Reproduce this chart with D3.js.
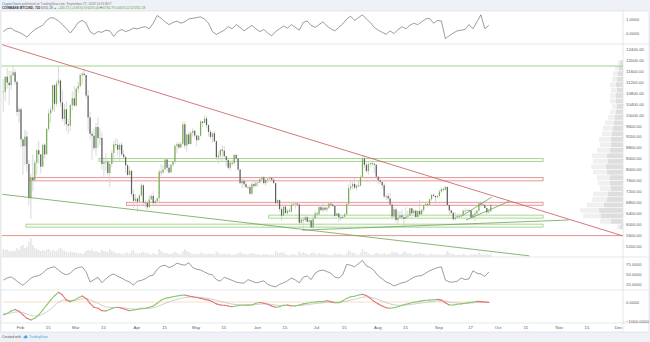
<!DOCTYPE html>
<html>
<head>
<meta charset="utf-8">
<script src="https://cdn.jsdelivr.net/npm/d3@7"></script>
<style>
  body { margin: 0; background: #eef1f6; }
  svg { display: block; font-family: "Liberation Sans", Arial, sans-serif; }
</style>
</head>
<body>
<svg id="chart" width="650" height="342"></svg>
<script>
// ---- BTCUSD (Coinbase) daily bars, 2018-01-23 .. 2018-09-27 ----
const firstDay = "2018-01-23";
const firstOpen = 10830;
const closes = [
  10840,11390,11170,11080,11440,11550,11200,10100,10200,
  9100,8850,9200,8200,6950,7700,7600,8250,8700,8550,8100,8900,8550,9480,10050,10180,11080,10400,11150,11250,10450,9850,10200,9650,9600,10350,10600,10330,
  10950,11050,11450,11500,11450,10700,9900,9300,9230,8780,9550,9150,9150,8200,8260,8280,7870,8200,8600,8920,8900,8720,8900,8550,8450,8150,7800,7950,7100,6850,6930,
  6820,7050,7420,6790,6780,6620,6900,7030,6770,6840,6950,7920,7890,8000,8360,8060,7890,8170,8280,8860,8920,8800,8940,9650,8870,9280,8930,9340,9410,9240,
  9070,9230,9750,9700,9860,9620,9370,9190,9320,9030,8440,8500,8720,8680,8480,8340,8060,8240,8230,8530,8400,8000,7500,7580,7460,7350,7350,7110,7460,7390,7500,
  7530,7640,7710,7500,7620,7650,7690,7620,7500,6770,6880,6550,6310,6640,6400,6490,6460,6710,6740,6760,6720,6050,6160,6150,6250,6090,6140,5880,6200,6390,
  6360,6620,6510,6600,6530,6600,6750,6710,6660,6300,6390,6250,6220,6270,6360,6740,7320,7380,7470,7330,7410,7400,7720,8400,8170,7940,8190,8230,8210,8170,7730,
  7600,7540,7420,7010,7030,6940,6720,6280,6540,6150,6240,6320,6250,6190,6270,6310,6580,6400,6490,6260,6480,6360,6520,6690,6730,6700,6910,7070,7030,6980,7020,
  7190,7280,7260,7360,6700,6500,6410,6180,6240,6300,6280,6330,6490,6490,6520,6500,6250,6340,6390,6490,6760,6720,6700,6590,6430,6470,6701.18
];
const highs = [
  11300,11400,11700,11600,11600,11750,11650,11250,10300,
  10250,9100,9450,9400,8350,7850,8550,8350,8750,9050,8550,8950,8950,9500,10200,10300,11100,11100,11250,11750,11300,10900,10400,10500,9850,10400,10850,11050,
  11000,11200,11500,11550,11700,11450,10900,10100,9400,9500,9700,9900,9500,9350,8400,8600,8350,8300,8700,9050,9150,9100,8950,9000,8700,8500,8200,8100,7950,7250,7100,
  7000,7100,7500,7450,6900,6850,7050,7100,7200,6900,6970,8000,8200,8150,8400,8400,8200,8200,8300,8900,9000,9000,9000,9750,9750,9300,9400,9400,9500,9450,
  9250,9250,9800,9750,9980,9950,9650,9450,9350,9400,9050,8650,8750,8880,8850,8500,8450,8270,8350,8550,8550,8400,8020,7700,7650,7600,7400,7440,7540,7580,7580,
  7600,7700,7750,7760,7640,7700,7750,7700,7680,7500,6900,6900,6620,6700,6650,6550,6580,6800,6830,6800,6800,6730,6250,6250,6350,6300,6200,6170,6290,6500,
  6440,6680,6680,6780,6700,6640,6780,6800,6800,6680,6400,6390,6320,6330,6400,6750,7450,7580,7550,7700,7450,7550,7780,8480,8500,8300,8280,8240,8290,8230,8180,
  7750,7710,7550,7500,7080,7150,7150,6730,6630,6570,6480,6470,6540,6260,6620,6480,6600,6600,6550,6530,6500,6880,6560,6700,6780,6780,6930,7100,7140,7060,7080,
  7250,7330,7340,7400,7370,6710,6540,6470,6440,6370,6400,6350,6530,6580,6540,6530,6510,6370,6500,6510,6790,6830,6780,6720,6600,6550,6734.79
];
const lows = [
  10100,10500,10950,10350,10900,11400,11100,9950,9700,
  8800,7800,8150,7900,6700,6200,7200,7600,7800,8200,7850,8100,8400,8550,9400,9700,10100,10100,10300,11050,10300,9750,9600,9400,9300,9400,10150,10300,
  10300,10800,11000,11100,11400,10600,9400,9100,8350,8700,8500,8800,8900,8000,7700,7950,7750,7350,8100,8300,8800,8500,8300,8500,8400,7850,7750,7800,7000,6600,6800,
  6450,6800,7000,6700,6600,6520,6600,6900,6650,6650,6800,6750,7750,7830,8000,7900,7850,7880,8100,8200,8600,8750,8800,8900,8750,8650,8900,8900,9200,9150,
  8850,9050,9200,9550,9700,9500,9200,9100,8980,9000,8350,8200,8350,8300,8450,8100,8000,7950,8150,8180,8350,7950,7450,7300,7350,7330,7260,7080,7060,7300,7380,
  7360,7480,7600,7450,7400,7520,7630,7550,7480,6650,6650,6450,6120,6300,6400,6350,6440,6400,6670,6560,6700,5950,6030,5780,6100,6050,6030,5850,5830,6200,
  6280,6300,6470,6440,6470,6450,6550,6700,6640,6270,6300,6080,6130,6200,6250,6340,6660,7240,7270,7280,7230,7370,7390,7700,8050,7870,7800,8080,8150,7870,7660,
  7460,7470,7300,6950,6880,6850,6680,6150,6190,6050,6000,6180,6150,5880,6180,6200,6300,6300,6320,6250,6260,6300,6340,6440,6660,6600,6650,6870,6990,6800,6950,
  7010,7140,7200,7230,6700,6300,6380,6140,6140,6230,6220,6200,6320,6410,6490,6430,6220,6240,6100,6360,6480,6620,6650,6570,6370,6390,6470.12
];
// daily volume, thousands of BTC
const volumes = [
  40,35,38,30,28,32,30,45,35,
  55,60,45,50,75,95,60,45,40,35,30,35,30,38,40,30,35,30,28,40,45,38,30,28,20,28,25,24,
  22,20,18,15,20,30,35,30,40,28,30,25,22,35,30,28,24,40,30,28,20,18,20,15,14,22,20,18,30,35,18,
  20,18,22,25,20,22,15,12,20,15,12,40,30,22,20,18,15,16,18,25,20,15,12,28,40,30,25,20,14,16,
  16,14,22,18,16,14,18,16,15,14,28,22,14,16,15,14,16,14,10,12,14,18,25,18,16,14,12,18,20,16,14,
  14,12,10,14,15,12,10,12,10,30,22,20,25,22,15,10,9,16,14,12,10,28,18,25,20,15,12,20,22,18,
  12,20,15,14,16,12,10,9,12,18,12,16,14,10,9,18,35,25,22,20,12,10,22,40,28,25,18,12,10,16,22,
  18,16,14,20,12,14,16,26,22,25,18,14,16,28,24,16,20,14,10,16,14,20,14,16,12,8,14,18,12,14,12,
  12,10,12,14,30,22,14,18,10,10,12,10,14,12,8,8,14,12,14,12,22,14,10,12,16,12,14
];

// ---- indicators, sampled every 2 days from 2018-01-23 ----
const indicatorStep = 2;
const oscillator = [
  0.1,0.3,0.35,0.15,0.05,-0.1,-0.3,0.0,0.25,0.4,0.55,0.9,1.1,1.05,0.85,0.6,0.3,0.0,0.35,0.75,
  0.9,0.7,0.1,-0.1,0.1,0.05,0.2,0.15,-0.25,0.1,0.25,0.1,0.2,0.35,0.3,0.4,0.45,0.3,0.7,1.25,
  1.05,0.8,0.6,0.75,0.85,0.7,0.8,1.0,1.05,1.1,1.15,1.0,0.7,0.1,-0.1,0.05,0.2,0.45,0.3,0.6,
  0.4,0.15,0.35,0.55,0.3,0.1,0.25,0.0,-0.2,0.1,0.3,0.5,0.35,0.6,0.4,0.2,0.75,0.85,0.55,0.4,
  0.6,0.8,0.5,0.3,0.15,0.4,0.65,1.0,1.2,0.9,1.1,1.3,1.0,0.75,0.4,0.2,0.05,-0.1,0.15,-0.05,
  0.25,0.45,0.3,0.55,0.7,0.6,0.8,1.0,1.05,0.7,0.9,0.85,-0.4,-0.2,0.0,0.15,0.2,0.25,0.6,0.3,
  0.8,1.3,0.3,0.55
];
const rsi = [
  35,40,43,36,28,22,30,40,44,46,52,62,66,68,60,52,48,52,62,66,
  68,55,30,36,42,28,38,46,50,44,40,34,30,22,32,34,38,45,47,62,
  70,72,66,70,77,74,72,78,66,62,60,55,50,48,36,32,42,38,34,30,
  28,27,36,32,28,30,33,24,20,18,24,28,33,40,35,28,42,45,36,52,
  58,60,56,52,42,40,48,74,72,68,76,84,70,66,58,45,38,30,26,20,
  24,28,30,36,42,45,46,52,58,62,66,68,35,30,30,32,40,36,38,58,
  52,50,44,55
];
const macd = [
  -680,-600,-470,-390,-490,-680,-860,-950,-860,-680,-420,-160,100,330,510,370,100,20,100,230,
  320,190,-70,-280,-330,-460,-470,-390,-300,-280,-330,-390,-460,-420,-390,-330,-330,-280,-210,-70,
  100,190,230,280,320,350,370,320,280,240,190,140,100,20,-100,-160,-170,-210,-250,-210,
  -170,-170,-165,-160,-70,-30,-70,-120,-210,-280,-250,-170,-160,-210,-210,-160,-100,-70,-30,0,
  20,20,70,20,-35,-35,70,190,280,300,370,400,340,190,20,-100,-210,-300,-330,-300,
  -250,-170,-120,-70,-10,20,60,90,100,120,140,100,-35,-160,-160,-120,-100,-70,-35,0,
  40,20,0,-20
];
const macdSignal = [
  -600,-610,-580,-530,-520,-560,-630,-710,-750,-730,-650,-530,-370,-190,0,100,100,80,85,120,
  170,175,115,20,-70,-170,-250,-285,-290,-290,-300,-320,-355,-370,-375,-365,-355,-335,-305,-245,
  -160,-70,5,75,135,190,235,255,260,255,240,215,185,145,85,25,-20,-65,-110,-135,
  -145,-150,-151,-152,-135,-110,-100,-105,-130,-165,-185,-180,-175,-185,-190,-185,-165,-140,-115,-85,
  -60,-45,-20,-10,-15,-20,0,40,95,145,200,250,270,255,200,130,50,-30,-100,-150,
  -175,-175,-160,-140,-110,-80,-50,-20,5,30,55,65,45,0,-35,-55,-65,-65,-60,-45,
  -25,-15,-10,-12
];

// ---- visible-range volume profile (price bins of 200) ----
const profileBins = [5800,6000,6200,6400,6600,6800,7000,7200,7400,7600,7800,8000,8200,8400,8600,8800,
  9000,9200,9400,9600,9800,10000,10200,10400,10600,10800,11000,11200,11400,11600,11800];
const profileTotal = [6,23,40,43,36,31,30,23,25,26,30,32,30,31,26,23,24,21,20,18,15,13,11,13,13,12,13,11,10,8,5];
const profileUp = [3,12,22,24,19,16,15,12,13,13,16,17,15,16,13,12,12,11,10,9,8,7,6,7,7,6,7,6,5,4,3];

// ---- drawings: zones and trend lines (date, price) ----
const zones = [
  { kind: "demand", from: "2018-03-13", to: "2018-10-24", lo: 8290, hi: 8400 },
  { kind: "supply", from: "2018-02-06", to: "2018-10-24", lo: 7580, hi: 7710 },
  { kind: "supply", from: "2018-03-27", to: "2018-10-24", lo: 6690, hi: 6800 },
  { kind: "demand", from: "2018-06-07", to: "2018-10-24", lo: 6220, hi: 6330 },
  { kind: "demand", from: "2018-02-04", to: "2018-10-24", lo: 5890, hi: 6000 }
];
const levels = [
  { kind: "demand", price: 11780 },
  { kind: "supply", price: 5580 }
];
const trendLines = [
  { kind: "supply", pts: [["2018-01-23", 12560], ["2018-12-03", 5580]] },
  { kind: "demand", pts: [["2018-01-23", 7090], ["2018-10-17", 4840]] },
  { kind: "demand", pts: [["2018-06-24", 5780], ["2018-11-06", 6150]] },
  { kind: "demand", pts: [["2018-09-13", 6300], ["2018-09-28", 6990]] },
  { kind: "demand", pts: [["2018-09-15", 6150], ["2018-10-07", 6840]] }
];

// ---- axis labels ----
const priceTicks = [5200,5600,6000,6400,6800,7200,7600,8000,8400,8800,9200,9600,10000,10400,10800,11200,11600,12000,12400];
const oscTicks = [0, 1];
const rsiTicks = [25, 50, 75];
const macdTicks = [-1000, 0];
const timeTicks = ["2018-02-01","2018-02-15","2018-03-01","2018-03-15","2018-04-01","2018-04-15","2018-05-01","2018-05-15",
  "2018-06-01","2018-06-15","2018-07-01","2018-07-15","2018-08-01","2018-08-15","2018-09-01","2018-09-17",
  "2018-10-01","2018-10-15","2018-11-01","2018-11-15","2018-12-01"];
const timeTickLabels = ["Feb","15","Mar","15","Apr","15","May","15","Jun","15","Jul","15","Aug","15","Sep","17","Oct","15","Nov","15","Dec"];

// ================= drawing =================
const svg = d3.select("#chart");
const parse = d3.timeParse("%Y-%m-%d");
const t0 = parse(firstDay);
const dayAt = (i, h = 12) => d3.timeHour.offset(d3.timeDay.offset(t0, i), h);

const L = 1.5, R = 623;
const P = {
  top:  { y0: 11,  y1: 44 },
  main: { y0: 44,  y1: 257 },
  rsi:  { y0: 257, y1: 290 },
  macd: { y0: 290, y1: 323 },
  axisBottom: 332
};
const C = {
  up: "#74b050", down: "#5e5e5e", wick: "#cfcfcf",
  demand: "#8cc56f", supply: "#e37474", trendSupply: "#c95560", trendDemand: "#68a651",
  grid: "#d5d9df", text: "#5a5a5a", line: "#5a5a5a"
};

const x = d3.scaleTime()
  .domain([parse("2018-01-23"), d3.timeHour.offset(parse("2018-12-03"), 12)])
  .range([2.24, R]);
const yMain = d3.scaleLinear().domain([5200, 12000]).range([246, 60]);
const yTop = d3.scaleLinear().domain([0, 1]).range([33, 19]);
const yRsi = d3.scaleLinear().domain([25, 75]).range([284, 264]);
const yMacd = d3.scaleLinear().domain([-1000, 0]).range([321, 302]);
const vol = d3.scaleLinear().domain([0, 100]).range([0, 20]);
const prof = d3.scaleLinear().domain([0, 45]).range([0, 45]);

// white chart frame and header band
svg.append("rect").attr("x", 0).attr("y", 0).attr("width", 650).attr("height", 342).attr("fill", "#eef1f6");
svg.append("rect").attr("x", 1).attr("y", P.top.y0).attr("width", 648).attr("height", P.axisBottom - P.top.y0)
  .attr("fill", "#fff").attr("stroke", C.grid).attr("stroke-width", 0.6);

// header
const h1 = svg.append("text").attr("x", 2).attr("y", 4.6).attr("font-size", 3.2).attr("fill", "#7a7a7a");
h1.append("tspan").attr("fill", "#2f80d1").text("CryptoCharts");
h1.append("tspan").text(" published on TradingView.com, September 27, 2018 10:13 EDT");
const h2 = svg.append("text").attr("x", 2).attr("y", 9.4).attr("font-size", 3.2).attr("fill", "#555");
h2.append("tspan").attr("font-weight", "bold").attr("fill", "#333").text("COINBASE:BTCUSD, 720 ");
h2.append("tspan").text("6701.18 ");
h2.append("tspan").attr("fill", "#5aa43c").text("▲ +245.72 (+3.81%) ");
[["O:", "6470.00"], ["H:", "6734.79"], ["L:", "6470.12"], ["C:", "6701.18"]].forEach(([k, v]) => {
  h2.append("tspan").text(" " + k);
  h2.append("tspan").attr("fill", "#5aa43c").text(v);
});

// panel separators
[P.main.y0, P.rsi.y0, P.macd.y0, P.macd.y1].forEach(yy =>
  svg.append("line").attr("x1", 1).attr("x2", 649).attr("y1", yy).attr("y2", yy)
    .attr("stroke", C.grid).attr("stroke-width", 0.6));
svg.append("line").attr("x1", R).attr("x2", R).attr("y1", P.top.y0).attr("y2", P.axisBottom)
  .attr("stroke", C.grid).attr("stroke-width", 0.6);

// clip regions
const defs = svg.append("defs");
function clip(id, p) {
  defs.append("clipPath").attr("id", id).append("rect")
    .attr("x", L).attr("y", p.y0).attr("width", R - L).attr("height", p.y1 - p.y0);
  return svg.append("g").attr("clip-path", `url(#${id})`);
}
const gTop = clip("c-top", P.top);
const gMain = clip("c-main", P.main);
const gRsi = clip("c-rsi", P.rsi);
const gMacd = clip("c-macd", P.macd);

// candles
const candles = closes.map((c, i) => ({
  date: dayAt(i), open: i ? closes[i - 1] : firstOpen, high: highs[i], low: lows[i], close: c, volume: volumes[i]
}));

// volume bars
gMain.append("g").selectAll("rect").data(candles).join("rect")
  .attr("x", d => x(d.date) - 0.8).attr("width", 1.6)
  .attr("y", d => P.main.y1 - vol(d.volume)).attr("height", d => vol(d.volume))
  .attr("fill", "#e6e6e6");

// volume profile (right aligned)
const vp = gMain.append("g");
profileBins.forEach((p, i) => {
  const yTopBin = yMain(p + 200) + 0.4, hBin = yMain(p) - yMain(p + 200) - 0.8;
  vp.append("rect").attr("x", R - prof(profileTotal[i])).attr("width", prof(profileTotal[i]))
    .attr("y", yTopBin).attr("height", hBin).attr("fill", "#f0f0f0");
  vp.append("rect").attr("x", R - prof(profileUp[i])).attr("width", prof(profileUp[i]))
    .attr("y", yTopBin).attr("height", hBin).attr("fill", "#dedede");
});

// zones
gMain.append("g").selectAll("rect").data(zones).join("rect")
  .attr("x", d => x(parse(d.from))).attr("width", d => x(parse(d.to)) - x(parse(d.from)))
  .attr("y", d => yMain(d.hi)).attr("height", d => yMain(d.lo) - yMain(d.hi))
  .attr("fill", d => C[d.kind]).attr("fill-opacity", 0.06)
  .attr("stroke", d => C[d.kind]).attr("stroke-width", 0.7);

// horizontal levels
gMain.append("g").selectAll("line").data(levels).join("line")
  .attr("x1", L).attr("x2", R).attr("y1", d => yMain(d.price)).attr("y2", d => yMain(d.price))
  .attr("stroke", d => C[d.kind]).attr("stroke-width", 0.8);

// candles: wick + body
const gC = gMain.append("g");
gC.selectAll("line").data(candles).join("line")
  .attr("x1", d => x(d.date)).attr("x2", d => x(d.date))
  .attr("y1", d => yMain(d.high)).attr("y2", d => yMain(d.low))
  .attr("stroke", C.wick).attr("stroke-width", 0.8);
gC.selectAll("rect").data(candles).join("rect")
  .attr("x", d => x(d.date) - 0.6).attr("width", 1.2)
  .attr("y", d => yMain(Math.max(d.open, d.close)))
  .attr("height", d => Math.max(0.7, Math.abs(yMain(d.open) - yMain(d.close))))
  .attr("fill", d => d.close >= d.open ? C.up : C.down);

// trend lines
const lineMain = d3.line().x(d => x(parse(d[0]))).y(d => yMain(d[1]));
gMain.append("g").selectAll("path").data(trendLines).join("path")
  .attr("d", d => lineMain(d.pts)).attr("fill", "none")
  .attr("stroke", d => d.kind === "supply" ? C.trendSupply : C.trendDemand)
  .attr("stroke-width", 0.8);

// indicator series
const indDate = i => dayAt(i * indicatorStep);
gTop.append("path").datum(oscillator)
  .attr("d", d3.line().x((d, i) => x(indDate(i))).y(d => yTop(d)))
  .attr("fill", "none").attr("stroke", C.line).attr("stroke-width", 0.6);
gRsi.append("path").datum(rsi)
  .attr("d", d3.line().x((d, i) => x(indDate(i))).y(d => yRsi(d)))
  .attr("fill", "none").attr("stroke", C.line).attr("stroke-width", 0.6);

// MACD: zero line, signal, direction-coloured MACD line
gMacd.append("line")
  .attr("x1", x(indDate(0))).attr("x2", x(indDate(macd.length - 1)))
  .attr("y1", yMacd(0)).attr("y2", yMacd(0))
  .attr("stroke", "#f4b98a").attr("stroke-width", 0.5);
gMacd.append("path").datum(macdSignal)
  .attr("d", d3.line().x((d, i) => x(indDate(i))).y(d => yMacd(d)))
  .attr("fill", "none").attr("stroke", "#b0b0b0").attr("stroke-width", 0.6);
const segs = d3.pairs(macd.map((v, i) => [i, v]));
gMacd.append("g").selectAll("line").data(segs).join("line")
  .attr("x1", d => x(indDate(d[0][0]))).attr("y1", d => yMacd(d[0][1]))
  .attr("x2", d => x(indDate(d[1][0]))).attr("y2", d => yMacd(d[1][1]))
  .attr("stroke", d => d[1][1] >= d[0][1] ? C.demand : C.supply)
  .attr("stroke-width", 1.1).attr("stroke-linecap", "round");

// right axes
function rightAxis(scale, ticks, fmt) {
  const g = svg.append("g").attr("transform", `translate(${R},0)`)
    .call(d3.axisRight(scale).tickValues(ticks).tickFormat(fmt).tickSize(1.5).tickPadding(1.5));
  g.select(".domain").remove();
  g.selectAll("line").attr("stroke", C.grid).attr("stroke-width", 0.5);
  g.selectAll("text").attr("font-size", 4.3).attr("fill", C.text).attr("font-family", "Liberation Sans, Arial, sans-serif");
}
rightAxis(yMain, priceTicks, d3.format(".2f"));
rightAxis(yTop, oscTicks, d3.format(".4f"));
rightAxis(yRsi, rsiTicks, d3.format(".4f"));
rightAxis(yMacd, macdTicks, d3.format(".4f"));

// bottom time axis
const gx = svg.append("g").attr("transform", `translate(0,${P.macd.y1})`)
  .call(d3.axisBottom(x).tickValues(timeTicks.map(parse))
    .tickFormat((d, i) => timeTickLabels[i]).tickSize(0).tickPadding(3));
gx.select(".domain").remove();
gx.selectAll("text").attr("font-size", 4.3).attr("fill", C.text).attr("font-family", "Liberation Sans, Arial, sans-serif");

// footer
const foot = svg.append("g").attr("transform", "translate(2,338.3)");
foot.append("text").attr("font-size", 3.4).attr("fill", "#555").text("Created with");
const logo = foot.append("g").attr("transform", "translate(21.5,-2.4)").attr("fill", "#4aa3df");
logo.append("ellipse").attr("cx", 2).attr("cy", 1.4).attr("rx", 2.2).attr("ry", 1.1);
logo.append("circle").attr("cx", 2.4).attr("cy", 0.5).attr("r", 1.2);
foot.append("text").attr("x", 27).attr("font-size", 3.4).attr("fill", "#4aa3df").text("TradingView");
</script>
</body>
</html>
